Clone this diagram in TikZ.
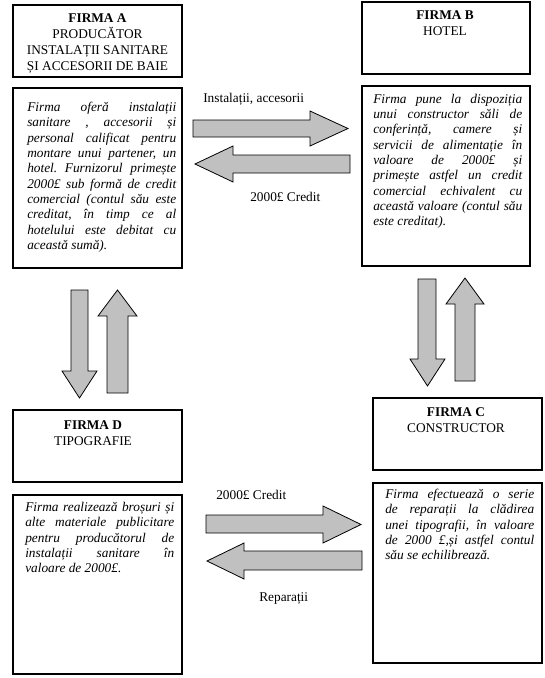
\documentclass[tikz,border=0pt]{standalone}
\usepackage{fontspec}
\setmainfont{Liberation Serif}
\usetikzlibrary{fit}
\definecolor{arrfill}{RGB}{192,192,192}
\tikzset{
  firmbox/.style={draw=black, line width=0.8pt, inner sep=0pt},
  titletext/.style={anchor=base, inner sep=0pt, align=center},
  bodytext/.style={anchor=base west, inner sep=0pt},
  flowlabel/.style={anchor=base west, inner sep=0pt, font=\fontsize{10}{12}\selectfont},
  blockarrow/.style={draw=black, line width=0.6pt, fill=arrfill, line join=miter}
}
\newcommand{\titlepar}[1]{\parbox[t]{120pt}{\centering\fontsize{10}{12}\selectfont #1}}
\newcommand{\bodypar}[1]{\parbox[t]{111.75pt}{\fontsize{10}{11.5}\selectfont\itshape\frenchspacing\tolerance=10000\hbadness=10000 #1}}
\begin{document}
\begin{tikzpicture}[x=0.75pt,y=-0.75pt]
\useasboundingbox (0,0) rectangle (545,678);
% ---- box corners
\coordinate (a1) at (13,5);   \coordinate (a2) at (182,77);
\coordinate (a3) at (13,88);  \coordinate (a4) at (182,268);
\coordinate (b1) at (362,2);  \coordinate (b2) at (530,74);
\coordinate (b3) at (362,86); \coordinate (b4) at (530,266);
\coordinate (d1) at (13,410); \coordinate (d2) at (182,482);
\coordinate (d3) at (13,495); \coordinate (d4) at (182,674);
\coordinate (c1) at (373,398); \coordinate (c2) at (542,470);
\coordinate (c3) at (373,483); \coordinate (c4) at (542,663);
\node[firmbox, fit=(a1)(a2)] (Atitle) {};
\node[firmbox, fit=(a3)(a4)] (Abody) {};
\node[firmbox, fit=(b1)(b2)] (Btitle) {};
\node[firmbox, fit=(b3)(b4)] (Bbody) {};
\node[firmbox, fit=(d1)(d2)] (Dtitle) {};
\node[firmbox, fit=(d3)(d4)] (Dbody) {};
\node[firmbox, fit=(c1)(c2)] (Ctitle) {};
\node[firmbox, fit=(c3)(c4)] (Cbody) {};
% ---- titles
\node[titletext] (Atxt) at (97.5,22.4) {\titlepar{\textbf{FIRMA A}\\PRODUCĂTOR\\INSTALAȚII SANITARE\\ȘI ACCESORII DE BAIE}};
\node[titletext] (Btxt) at (445,19.4) {\titlepar{\textbf{FIRMA B}\\HOTEL}};
\node[titletext] (Dtxt) at (93,429.4) {\titlepar{\textbf{FIRMA D}\\TIPOGRAFIE}};
\node[titletext] (Ctxt) at (456,416) {\titlepar{\textbf{FIRMA C}\\CONSTRUCTOR}};
% ---- body texts
\node[bodytext] (Abtxt) at (27,111.5) {\bodypar{Firma oferă instalații\linebreak
sanitare , accesorii și\linebreak
personal calificat pentru\linebreak
montare unui partener, un\linebreak
hotel. Furnizorul primește\linebreak
2000£ sub formă de credit\linebreak
comercial (contul său este\linebreak
creditat, în timp ce al\linebreak
hotelului este debitat cu\linebreak
această sumă).}};
\node[bodytext] (Bbtxt) at (373,103) {\bodypar{Firma pune la dispoziția\linebreak
unui constructor săli de\linebreak
conferință, camere și\linebreak
servicii de alimentație în\linebreak
valoare de 2000£ și\linebreak
primește astfel un credit\linebreak
comercial echivalent cu\linebreak
această valoare (contul său\linebreak
este creditat).}};
\node[bodytext] (Dbtxt) at (25,511.5) {\bodypar{Firma realizează broșuri și\linebreak
alte materiale publicitare\linebreak
pentru producătorul de\linebreak
instalații sanitare în\linebreak
valoare de 2000£.}};
\node[bodytext] (Cbtxt) at (385,498.5) {\bodypar{Firma efectuează o serie\linebreak
de reparații la clădirea\linebreak
unei tipografii, în valoare\linebreak
de 2000 £,și astfel contul\linebreak
său se echilibrează.}};
% ---- flow labels
\node[flowlabel] (l1) at (203,102) {Instalații, accesorii};
\node[flowlabel] (l2) at (250,201) {2000£ Credit};
\node[flowlabel] (l3) at (216,499) {2000£ Credit};
\node[flowlabel] (l4) at (259,601) {Reparații};
% ---- block arrows top (A <-> B)
\draw[blockarrow] (193,120) -- (310,120) -- (310,111) -- (348,128.5) -- (310,146) -- (310,137) -- (193,137) -- cycle;
\draw[blockarrow] (350,155) -- (233,155) -- (233,146) -- (195,164) -- (233,182) -- (233,173) -- (350,173) -- cycle;
% ---- block arrows left (A <-> D)
\draw[blockarrow] (71,290) -- (88,290) -- (88,371) -- (97,371) -- (79.5,398) -- (62,371) -- (71,371) -- cycle;
\draw[blockarrow] (107,393) -- (128,393) -- (128,316) -- (137,316) -- (117.5,290) -- (98,316) -- (107,316) -- cycle;
% ---- block arrows right (B <-> C)
\draw[blockarrow] (418,279) -- (436,279) -- (436,359) -- (445,359) -- (427.5,386) -- (410,359) -- (418,359) -- cycle;
\draw[blockarrow] (455,381) -- (475,381) -- (475,304) -- (484,304) -- (465,278) -- (446,304) -- (455,304) -- cycle;
% ---- block arrows bottom (D <-> C)
\draw[blockarrow] (206,515) -- (323,515) -- (323,506) -- (361,524.5) -- (323,543) -- (323,533) -- (206,533) -- cycle;
\draw[blockarrow] (362,551) -- (244,551) -- (244,543) -- (207,561) -- (244,579) -- (244,570) -- (362,570) -- cycle;
\end{tikzpicture}
\end{document}
